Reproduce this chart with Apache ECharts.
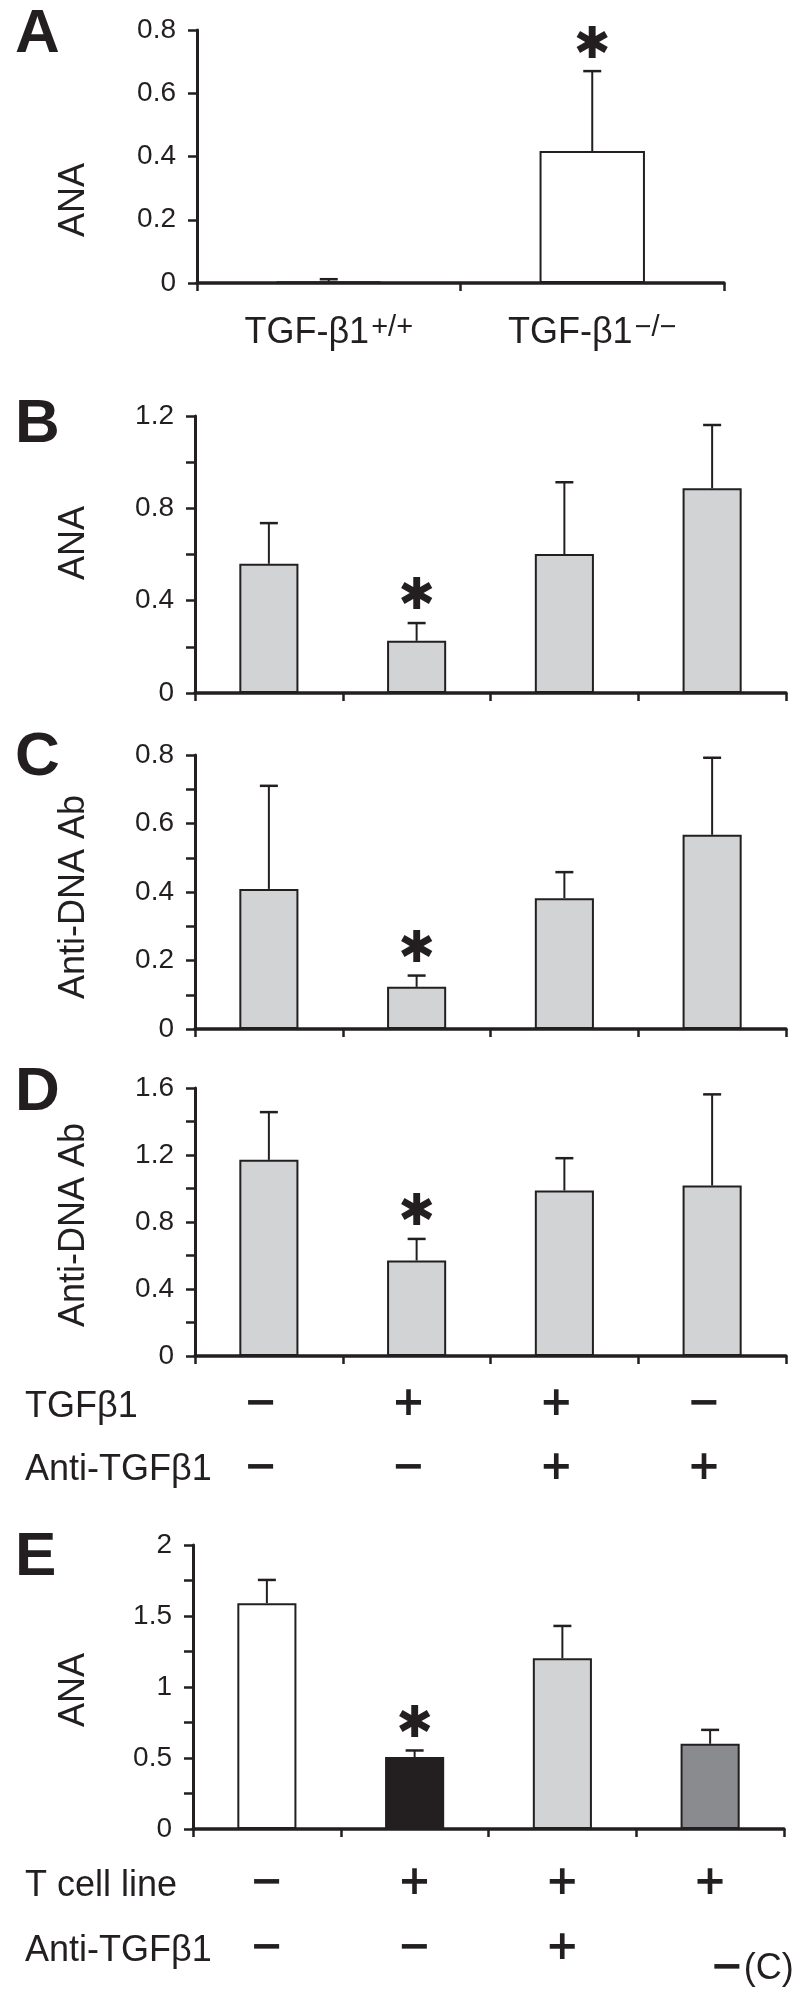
<!DOCTYPE html>
<html>
<head>
<meta charset="utf-8">
<script src="https://cdn.jsdelivr.net/npm/echarts@6/dist/echarts.min.js"></script>
<style>
html,body{margin:0;padding:0;background:#fff;}
#chart{width:800px;height:1993px;}
</style>
</head>
<body>
<div id="chart"></div>
<script>
// ---------- data ----------
const genoBase = 'TGF-β1';
const genoSup = ['+/+', '−/−'];
const anaA = [0.005, 0.417];
const errA = [0.012, 0.670];
const starA = [0, 1];
const ticksA = ['0', '0.2', '0.4', '0.6', '0.8'];

const tgfRow = ['−', '+', '+', '−'];
const antiRowD = ['−', '−', '+', '+'];

const anaB = [0.560, 0.226, 0.602, 0.887];
const errB = [0.736, 0.303, 0.913, 1.161];
const starB = [0, 1, 0, 0];
const ticksB = ['0', '0.4', '0.8', '1.2'];

const dnaC = [0.409, 0.123, 0.382, 0.567];
const errC = [0.710, 0.156, 0.458, 0.792];
const starC = [0, 1, 0, 0];
const ticksC = ['0', '0.2', '0.4', '0.6', '0.8'];

const dnaD = [1.171, 0.570, 0.988, 1.018];
const errD = [1.456, 0.699, 1.181, 1.562];
const starD = [0, 1, 0, 0];
const ticksD = ['0', '0.4', '0.8', '1.2', '1.6'];

const tcellRow = ['−', '+', '+', '+'];
const antiRowE = ['−', '−', '+', '−(C)'];
const anaE = [1.590, 0.507, 1.203, 0.600];
const errE = [1.754, 0.553, 1.430, 0.698];
const starE = [0, 1, 0, 0];
const ticksE = ['0', '0.5', '1', '1.5', '2'];

const rowNamesD = ['TGFβ1', 'Anti-TGFβ1'];
const rowNamesE = ['T cell line', 'Anti-TGFβ1'];

// ---------- styling ----------
const INK = '#231f20';
const GRAY = '#d1d3d4';
const fillsA = ['#ffffff', '#ffffff'];
const fillsBD = [GRAY, GRAY, GRAY, GRAY];
const fillsE = ['#ffffff', '#231f20', GRAY, '#898b8e'];

const chart = echarts.init(document.getElementById('chart'), null, {renderer: 'canvas'});

const grids = [
  {left: 197, top: 30, width: 527, height: 253},
  {left: 195, top: 416, width: 591, height: 277},
  {left: 195, top: 755, width: 591, height: 274},
  {left: 195, top: 1088, width: 591, height: 268},
  {left: 193, top: 1545, width: 591, height: 284}
].map(g => Object.assign({containLabel: false, outerBoundsMode: 'none'}, g));

function fmt(v) { return String(parseFloat(v.toFixed(3))); }

function yAxisCfg(gi, max, interval, labels) {
  return {
    type: 'value', gridIndex: gi, min: 0, max: max, interval: interval,
    axisLine: {show: true, lineStyle: {color: INK, width: 3}},
    axisTick: {show: true, length: 9, lineStyle: {color: INK, width: 2.5}},
    splitLine: {show: false},
    axisLabel: {
      margin: 21, color: INK, fontSize: 28, fontFamily: 'Liberation Sans',
      formatter: v => { const s = fmt(v); return labels.indexOf(s) >= 0 ? s : ''; }
    }
  };
}

function xMain(gi, data, label) {
  return {
    type: 'category', gridIndex: gi, data: data, boundaryGap: true, position: 'bottom',
    axisLine: {show: true, onZero: false, lineStyle: {color: INK, width: 3.5}},
    axisTick: {show: true, length: 8, interval: 0, alignWithLabel: false, lineStyle: {color: INK, width: 2.5}},
    axisLabel: label || {show: false},
    splitLine: {show: false}
  };
}

function xRow(gi, data, offset, shift) {
  return {
    type: 'category', gridIndex: gi, data: data, boundaryGap: true, position: 'bottom', offset: offset,
    axisLine: {show: false}, axisTick: {show: false}, splitLine: {show: false},
    axisLabel: {
      show: true, interval: 0, margin: 0, verticalAlign: 'middle', color: INK,
      formatter: v => v === '−(C)' ? '{m|−}{c|(C)}' : '{m|' + v + '}',
      rich: {
        m: {fontFamily: 'DejaVu Sans', fontWeight: 'bold', fontSize: 40, color: INK},
        c: {fontFamily: 'Liberation Sans', fontSize: 36, color: INK}
      },
      padding: shift ? [0, shift, 0, 0] : 0
    }
  };
}

const catsA = genoSup.map(s => genoBase + s);
const cats4 = ['1', '2', '3', '4'];

const xAxes = [
  xMain(0, catsA, {
    show: true, interval: 0, margin: 50, verticalAlign: 'middle',
    formatter: (v, i) => '{b|' + genoBase + '}{s|' + genoSup[i] + '}',
    rich: {
      b: {fontFamily: 'Liberation Sans', fontSize: 36, color: INK, lineHeight: 40},
      s: {fontFamily: 'Liberation Sans', fontSize: 29, color: INK, lineHeight: 20, verticalAlign: 'top', padding: [0, 0, 0, 2]}
    }
  }),
  xMain(1, cats4),
  xMain(2, cats4),
  xMain(3, cats4),
  xRow(3, tgfRow, 49, 16),
  xRow(3, antiRowD, 113, 16),
  xMain(4, cats4),
  xRow(4, tcellRow, 55, 0),
  xRow(4, antiRowE.map(v => v === '−(C)' ? {value: v, textStyle: {align: 'left'}} : v), 120, 0)
];

const yAxes = [
  yAxisCfg(0, 0.8, 0.2, ticksA),
  yAxisCfg(1, 1.2, 0.2, ticksB),
  yAxisCfg(2, 0.8, 0.1, ticksC),
  yAxisCfg(3, 1.6, 0.2, ticksD),
  yAxisCfg(4, 2, 0.25, ticksE)
];

function barSeries(xi, yi, vals, fills) {
  return {
    type: 'bar', xAxisIndex: xi, yAxisIndex: yi, barWidth: '40%', silent: true,
    itemStyle: {borderColor: INK, borderWidth: 2},
    data: vals.map((v, i) => ({value: v, itemStyle: {color: fills[i]}})),
    z: 2
  };
}

function errSeries(xi, yi, vals, errs, stars) {
  return {
    type: 'custom', xAxisIndex: xi, yAxisIndex: yi, silent: true, clip: false, z: 3,
    data: vals.map((v, i) => [i, errs[i], v, stars[i]]),
    renderItem: function (params, api) {
      const i = api.value(0);
      const pTop = api.coord([i, api.value(1)]);
      const pBase = api.coord([i, api.value(2)]);
      const children = [
        {type: 'line', shape: {x1: pBase[0], y1: pBase[1], x2: pTop[0], y2: pTop[1]}, style: {stroke: INK, lineWidth: 2}},
        {type: 'line', shape: {x1: pTop[0] - 9, y1: pTop[1], x2: pTop[0] + 9, y2: pTop[1]}, style: {stroke: INK, lineWidth: 2.5}}
      ];
      if (api.value(3)) {
        children.push({type: 'text', x: pTop[0], y: pTop[1] - 25,
          style: {text: '✱', fontFamily: 'DejaVu Sans', fontSize: 44, fill: INK, align: 'center', verticalAlign: 'middle'}});
      }
      return {type: 'group', children: children};
    }
  };
}

const series = [
  barSeries(0, 0, anaA, fillsA), errSeries(0, 0, anaA, errA, starA),
  barSeries(1, 1, anaB, fillsBD), errSeries(1, 1, anaB, errB, starB),
  barSeries(2, 2, dnaC, fillsBD), errSeries(2, 2, dnaC, errC, starC),
  barSeries(3, 3, dnaD, fillsBD), errSeries(3, 3, dnaD, errD, starD),
  barSeries(6, 4, anaE, fillsE), errSeries(6, 4, anaE, errE, starE)
];

const letters = [['A', 35], ['B', 425], ['C', 758], ['D', 1093], ['E', 1558]];
const yTitles = [['ANA', 200], ['ANA', 543], ['Anti-DNA Ab', 897], ['Anti-DNA Ab', 1225], ['ANA', 1690]];
const rowTitles = [[rowNamesD[0], 1407], [rowNamesD[1], 1470], [rowNamesE[0], 1886], [rowNamesE[1], 1951]];

const graphic = [];
letters.forEach(l => graphic.push({
  type: 'text', x: 15, y: l[1], silent: true,
  style: {text: l[0], fontFamily: 'Liberation Sans', fontWeight: 'bold', fontSize: 62, fill: INK, align: 'left', verticalAlign: 'middle'}
}));
yTitles.forEach(t => graphic.push({
  type: 'text', x: 74, y: t[1], rotation: Math.PI / 2, silent: true,
  style: {text: t[0], fontFamily: 'Liberation Sans', fontSize: 36, fill: INK, align: 'center', verticalAlign: 'middle'}
}));
rowTitles.forEach(t => graphic.push({
  type: 'text', x: 25, y: t[1], silent: true,
  style: {text: t[0], fontFamily: 'Liberation Sans', fontSize: 36, fill: INK, align: 'left', verticalAlign: 'middle'}
}));

chart.setOption({
  animation: false,
  backgroundColor: '#ffffff',
  grid: grids,
  xAxis: xAxes,
  yAxis: yAxes,
  series: series,
  graphic: graphic
});
</script>
</body>
</html>
